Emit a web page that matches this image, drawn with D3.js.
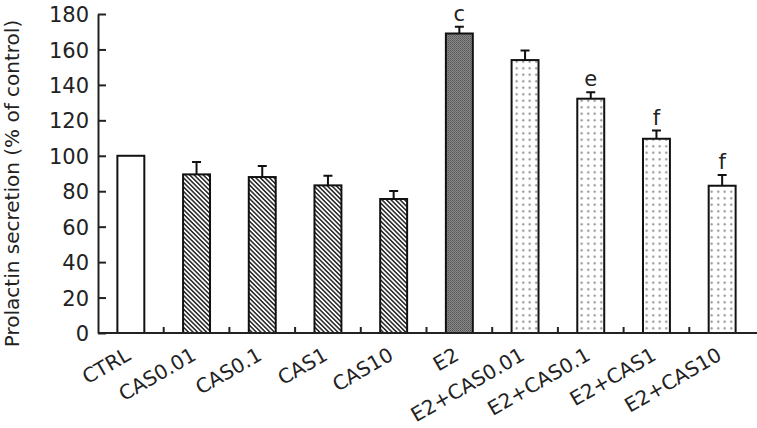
<!DOCTYPE html>
<html lang="en">
  <head>
    <meta charset="UTF-8">
    <title>Prolactin secretion</title>
    <style>
    * { box-sizing: border-box; margin: 0; padding: 0; }
    body { background: #fff; }
    svg { display: block; }
    .axis path, .axis line { stroke: #222; stroke-width: 2px; }
    .axis text { fill: #222; font: 21px "DejaVu Sans", sans-serif; }
    .xlabel { fill: #222; font: 20px "DejaVu Sans", sans-serif; }
    .ytitle { fill: #222; font: 20px "DejaVu Sans", sans-serif; }
    .letter { fill: #222; font: 21px "DejaVu Sans", sans-serif; }
    .bar { stroke: #111; stroke-width: 2px; }
    .err { stroke: #111; stroke-width: 2px; fill: none; }
    </style>
  </head>
  <body>
    <svg width="757" height="428"></svg>
    <script src="https://d3js.org/d3.v7.min.js"></script>
    <script>
      const categories = ["CTRL", "CAS0.01", "CAS0.1", "CAS1", "CAS10", "E2",
        "E2+CAS0.01", "E2+CAS0.1", "E2+CAS1", "E2+CAS10"];
      const means = [100, 89.5, 88, 83.3, 75.6, 169, 154, 132.2, 109.6, 83.1];
      const errors = [0, 7, 6.2, 5.5, 4.5, 3.8, 5.4, 3.6, 4.6, 6];
      const fills = ["plain", "hatch", "hatch", "hatch", "hatch", "dark",
        "dots", "dots", "dots", "dots"];
      const letters = ["", "", "", "", "", "c", "", "e", "f", "f"];
      const yTicks = [0, 20, 40, 60, 80, 100, 120, 140, 160, 180];

      const svg = d3.select("svg");
      const plotLeft = 98, plotRight = 755, plotTop = 14, plotBottom = 333;

      const x = d3.scaleBand().domain(categories).range([plotLeft, plotRight])
        .paddingInner(0.59).paddingOuter(0.295);
      const y = d3.scaleLinear().domain([0, 180]).range([plotBottom, plotTop]);

      // patterns
      const defs = svg.append("defs");
      const hatch = defs.append("pattern").attr("id", "hatch")
        .attr("patternUnits", "userSpaceOnUse").attr("width", 3.2).attr("height", 10)
        .attr("patternTransform", "rotate(-45)");
      hatch.append("rect").attr("width", 3.2).attr("height", 10).attr("fill", "#fff");
      hatch.append("line").attr("x1", 0.8).attr("y1", 0).attr("x2", 0.8).attr("y2", 10)
        .attr("stroke", "#222").attr("stroke-width", 1.5);

      const dark = defs.append("pattern").attr("id", "dark")
        .attr("patternUnits", "userSpaceOnUse").attr("width", 2).attr("height", 2);
      dark.append("rect").attr("width", 2).attr("height", 2).attr("fill", "#8a8a8a");
      dark.append("rect").attr("width", 1).attr("height", 1).attr("fill", "#555");
      dark.append("rect").attr("x", 1).attr("y", 1).attr("width", 1).attr("height", 1).attr("fill", "#666");

      const dots = defs.append("pattern").attr("id", "dots")
        .attr("patternUnits", "userSpaceOnUse").attr("width", 6.5).attr("height", 6.5);
      dots.append("rect").attr("width", 6.5).attr("height", 6.5).attr("fill", "#fff");
      dots.append("circle").attr("cx", 3.2).attr("cy", 3.2).attr("r", 1.1).attr("fill", "#888");

      const fillFor = f => f === "plain" ? "#fff" : `url(#${f})`;

      // y axis
      svg.append("g").attr("class", "axis")
        .attr("transform", `translate(${plotLeft},0)`)
        .call(d3.axisLeft(y).tickValues(yTicks).tickSizeInner(-8).tickSizeOuter(0).tickPadding(9))
        .call(g => g.selectAll("text").attr("dy", "0.36em"));

      svg.append("text").attr("class", "ytitle")
        .attr("transform", `translate(19,${(plotTop + plotBottom) / 2 + 10}) rotate(-90)`)
        .attr("text-anchor", "middle")
        .text("Prolactin secretion (% of control)");

      // bars
      const data = categories.map((c, i) => ({ c, m: means[i], e: errors[i], f: fills[i], l: letters[i] }));
      const cx = d => x(d.c) + x.bandwidth() / 2;

      const bars = svg.append("g").selectAll("g").data(data).enter().append("g");

      bars.filter(d => d.e > 0).append("path").attr("class", "err")
        .attr("d", d => `M${cx(d)},${y(d.m)}V${y(d.m + d.e)}M${cx(d) - 4.5},${y(d.m + d.e)}H${cx(d) + 4.5}`);

      bars.append("rect").attr("class", "bar")
        .attr("x", d => x(d.c))
        .attr("y", d => y(d.m))
        .attr("width", x.bandwidth())
        .attr("height", d => y(0) - y(d.m))
        .attr("fill", d => fillFor(d.f));

      bars.filter(d => d.l).append("text").attr("class", "letter")
        .attr("x", cx)
        .attr("y", d => y(d.m + d.e) - 6)
        .attr("text-anchor", "middle")
        .text(d => d.l);

      // x axis with separator ticks between groups
      const xAxis = svg.append("g").attr("class", "axis");
      xAxis.append("line").attr("x1", plotLeft).attr("x2", 757)
        .attr("y1", plotBottom).attr("y2", plotBottom);
      const sepX = d => x(d) - x.step() * x.paddingInner() / 2;
      xAxis.selectAll(".sep").data(categories.slice(1)).enter().append("line")
        .attr("x1", sepX).attr("x2", sepX)
        .attr("y1", plotBottom).attr("y2", plotBottom - 6);

      svg.append("g").selectAll("text").data(categories).enter().append("text")
        .attr("class", "xlabel")
        .attr("text-anchor", "end")
        .attr("transform", d => `translate(${x(d) + x.bandwidth() / 2 + 1},${plotBottom + 26}) rotate(-30)`)
        .text(d => d);
    </script>
  </body>
</html>
